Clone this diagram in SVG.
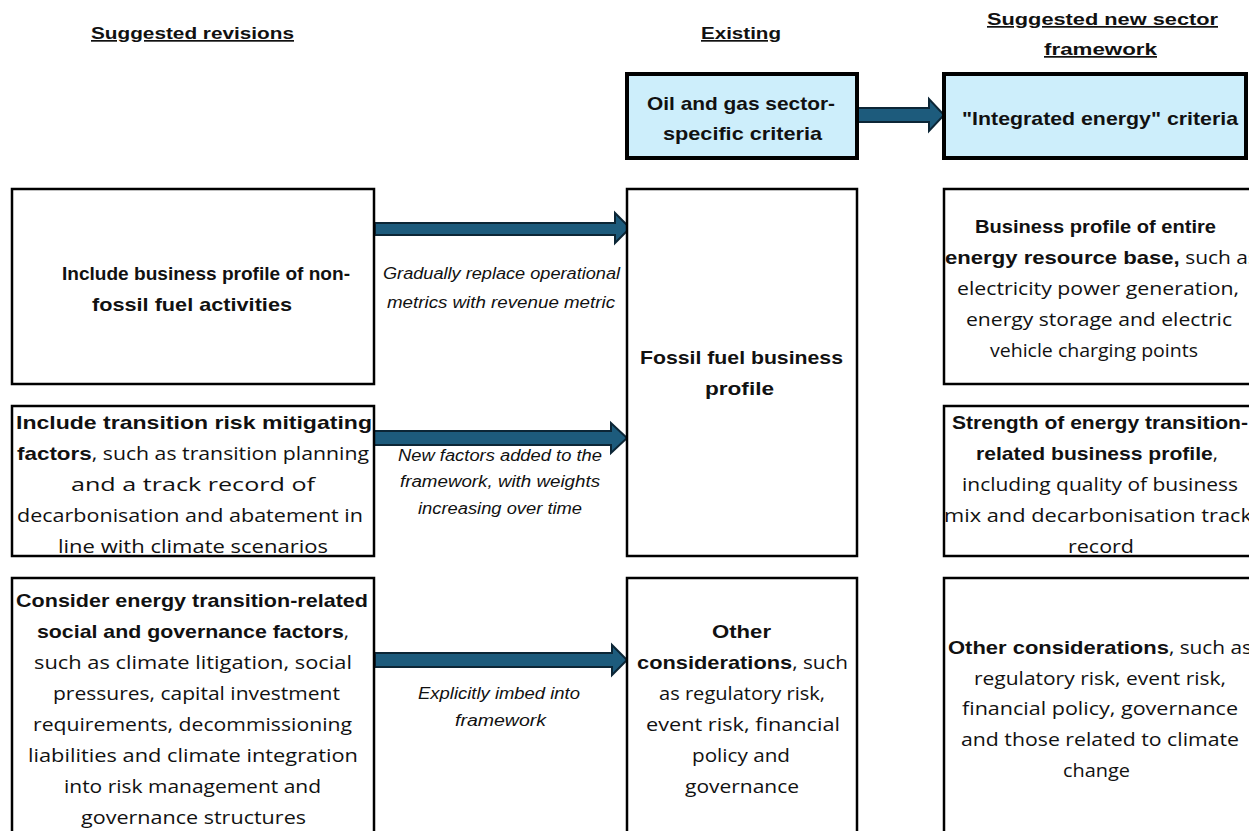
<svg xmlns="http://www.w3.org/2000/svg" width="1249" height="831" viewBox="0 0 1249 831">
  <style>
    text { font-family: "Liberation Sans", Arial, sans-serif; fill: #111; }
    .hdr { font-size: 17px; font-weight: bold; text-decoration: underline; }
    .t { font-family: "Open Sans", "Liberation Sans", sans-serif; font-size: 18px; }
    .b { font-family: "Liberation Sans", Arial, sans-serif; font-size: 19px; font-weight: bold; }
    .lbl { font-size: 16px; font-style: italic; }
    .box { fill: #fff; stroke: #000; stroke-width: 2.5; }
    .key { fill: #cdeefb; stroke: #000; stroke-width: 4; }
    .arrow { fill: #1d5b7c; stroke: #0c2636; stroke-width: 2; stroke-linejoin: miter; }
  </style>

  <!-- column headings -->
  <g id="headings">
    <text class="hdr" x="91" y="39" textLength="203" lengthAdjust="spacingAndGlyphs">Suggested revisions</text>
    <text class="hdr" x="701" y="39" textLength="80" lengthAdjust="spacingAndGlyphs">Existing</text>
    <text class="hdr" x="987" y="25" textLength="231" lengthAdjust="spacingAndGlyphs">Suggested new sector </text>
    <text class="hdr" x="1044" y="55" textLength="113" lengthAdjust="spacingAndGlyphs">framework</text>
  </g>

  <!-- connectors -->
  <g id="connectors">
    <polygon class="arrow" points="858,108 929,108 929,99 944,115 929,131 929,122 858,122"/>
    <polygon class="arrow" points="375,223 615,223 615,213 630,228 615,243 615,235 375,235"/>
    <polygon class="arrow" points="372,431 611,431 611,423 627,438 611,453 611,445 372,445"/>
    <polygon class="arrow" points="375,653 612,653 612,645 627,660 612,675 612,667 375,667"/>
  </g>

  <!-- connector labels -->
  <g id="connector-labels">
    <text class="lbl" x="383" y="279" textLength="237" lengthAdjust="spacingAndGlyphs">Gradually replace operational</text>
    <text class="lbl" x="387" y="308" textLength="228" lengthAdjust="spacingAndGlyphs">metrics with revenue metric</text>
    <text class="lbl" x="398" y="461" textLength="204" lengthAdjust="spacingAndGlyphs">New factors added to the</text>
    <text class="lbl" x="400" y="487" textLength="200" lengthAdjust="spacingAndGlyphs">framework, with weights</text>
    <text class="lbl" x="418" y="514" textLength="164" lengthAdjust="spacingAndGlyphs">increasing over time</text>
    <text class="lbl" x="418" y="699" textLength="162" lengthAdjust="spacingAndGlyphs">Explicitly imbed into</text>
    <text class="lbl" x="455" y="726" textLength="91" lengthAdjust="spacingAndGlyphs">framework</text>
  </g>

  <!-- existing: oil and gas criteria -->
  <g id="oil-gas-criteria">
    <rect class="key" x="627" y="74" width="230" height="84"/>
    <text class="b" x="647" y="110" textLength="188" lengthAdjust="spacingAndGlyphs">Oil and gas sector-</text>
    <text class="b" x="663" y="140" textLength="159" lengthAdjust="spacingAndGlyphs">specific criteria</text>
  </g>

  <!-- new: integrated energy criteria -->
  <g id="integrated-energy">
    <rect class="key" x="944" y="74" width="302" height="84"/>
    <text class="b" x="962" y="125" textLength="276" lengthAdjust="spacingAndGlyphs">"Integrated energy" criteria</text>
  </g>

  <!-- suggested revisions -->
  <g id="rev-business-profile">
    <rect class="box" x="12" y="189" width="362" height="195"/>
    <text class="b" x="62" y="280" textLength="288" lengthAdjust="spacingAndGlyphs">Include business profile of non-</text>
    <text class="b" x="92" y="311" textLength="200" lengthAdjust="spacingAndGlyphs">fossil fuel activities</text>
  </g>

  <g id="rev-transition-risk">
    <rect class="box" x="12" y="406" width="362" height="150"/>
    <text class="b" x="16" y="429" textLength="356" lengthAdjust="spacingAndGlyphs">Include transition risk mitigating</text>
    <text class="t" x="17" y="460" textLength="352" lengthAdjust="spacingAndGlyphs"><tspan class="b">factors</tspan>, such as transition planning</text>
    <text class="t" x="71" y="491" textLength="244" lengthAdjust="spacingAndGlyphs">and a track record of</text>
    <text class="t" x="17" y="522" textLength="346" lengthAdjust="spacingAndGlyphs">decarbonisation and abatement in</text>
    <text class="t" x="58" y="553" textLength="270" lengthAdjust="spacingAndGlyphs">line with climate scenarios</text>
  </g>

  <g id="rev-social-governance">
    <rect class="box" x="12" y="578" width="362" height="270"/>
    <text class="b" x="16" y="607" textLength="352" lengthAdjust="spacingAndGlyphs">Consider energy transition-related</text>
    <text class="t" x="37" y="638" textLength="312" lengthAdjust="spacingAndGlyphs"><tspan class="b">social and governance factors</tspan>,</text>
    <text class="t" x="34" y="669" textLength="318" lengthAdjust="spacingAndGlyphs">such as climate litigation, social</text>
    <text class="t" x="53" y="700" textLength="287" lengthAdjust="spacingAndGlyphs">pressures, capital investment</text>
    <text class="t" x="33" y="731" textLength="319" lengthAdjust="spacingAndGlyphs">requirements, decommissioning</text>
    <text class="t" x="28" y="762" textLength="330" lengthAdjust="spacingAndGlyphs">liabilities and climate integration</text>
    <text class="t" x="64" y="793" textLength="257" lengthAdjust="spacingAndGlyphs">into risk management and</text>
    <text class="t" x="81" y="824" textLength="225" lengthAdjust="spacingAndGlyphs">governance structures</text>
  </g>

  <!-- existing criteria -->
  <g id="fossil-fuel-profile">
    <rect class="box" x="627" y="189" width="230" height="367"/>
    <text class="b" x="640" y="364" textLength="203" lengthAdjust="spacingAndGlyphs">Fossil fuel business</text>
    <text class="b" x="705" y="395" textLength="69" lengthAdjust="spacingAndGlyphs">profile</text>
  </g>

  <g id="existing-other">
    <rect class="box" x="627" y="578" width="230" height="270"/>
    <text class="b" x="712" y="638" textLength="59" lengthAdjust="spacingAndGlyphs">Other</text>
    <text class="t" x="637" y="669" textLength="211" lengthAdjust="spacingAndGlyphs"><tspan class="b">considerations</tspan>, such</text>
    <text class="t" x="659" y="700" textLength="166" lengthAdjust="spacingAndGlyphs">as regulatory risk,</text>
    <text class="t" x="646" y="731" textLength="194" lengthAdjust="spacingAndGlyphs">event risk, financial</text>
    <text class="t" x="692" y="762" textLength="98" lengthAdjust="spacingAndGlyphs">policy and</text>
    <text class="t" x="685" y="793" textLength="114" lengthAdjust="spacingAndGlyphs">governance</text>
  </g>

  <!-- new sector framework -->
  <g id="new-business-profile">
    <rect class="box" x="944" y="189" width="320" height="195"/>
    <text class="b" x="975" y="233" textLength="241" lengthAdjust="spacingAndGlyphs">Business profile of entire</text>
    <text class="t" x="945" y="264" textLength="313" lengthAdjust="spacingAndGlyphs"><tspan class="b">energy resource base,</tspan> such as</text>
    <text class="t" x="957" y="295" textLength="282" lengthAdjust="spacingAndGlyphs">electricity power generation,</text>
    <text class="t" x="966" y="326" textLength="266" lengthAdjust="spacingAndGlyphs">energy storage and electric</text>
    <text class="t" x="990" y="357" textLength="208" lengthAdjust="spacingAndGlyphs">vehicle charging points</text>
  </g>

  <g id="new-transition-strength">
    <rect class="box" x="944" y="406" width="320" height="150"/>
    <text class="b" x="952" y="429" textLength="296" lengthAdjust="spacingAndGlyphs">Strength of energy transition-</text>
    <text class="t" x="976" y="460" textLength="242" lengthAdjust="spacingAndGlyphs"><tspan class="b">related business profile</tspan>,</text>
    <text class="t" x="962" y="491" textLength="276" lengthAdjust="spacingAndGlyphs">including quality of business</text>
    <text class="t" x="944" y="522" textLength="308" lengthAdjust="spacingAndGlyphs">mix and decarbonisation track</text>
    <text class="t" x="1068" y="553" textLength="66" lengthAdjust="spacingAndGlyphs">record</text>
  </g>

  <g id="new-other">
    <rect class="box" x="944" y="578" width="320" height="270"/>
    <text class="t" x="948" y="654" textLength="304" lengthAdjust="spacingAndGlyphs"><tspan class="b">Other considerations</tspan>, such as</text>
    <text class="t" x="974" y="685" textLength="252" lengthAdjust="spacingAndGlyphs">regulatory risk, event risk,</text>
    <text class="t" x="962" y="715" textLength="276" lengthAdjust="spacingAndGlyphs">financial policy, governance</text>
    <text class="t" x="961" y="746" textLength="278" lengthAdjust="spacingAndGlyphs">and those related to climate</text>
    <text class="t" x="1063" y="777" textLength="67" lengthAdjust="spacingAndGlyphs">change</text>
  </g>
</svg>
